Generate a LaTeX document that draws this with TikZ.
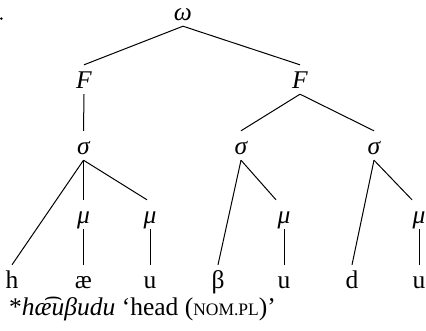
\documentclass[tikz,border=0pt]{standalone}
\usepackage{tikz}
\usetikzlibrary{calc}
\usepackage{fontspec}
\setmainfont{Liberation Serif}
\begin{document}
\begin{tikzpicture}[x=1pt,y=-1pt,
  lab/.style={inner sep=0pt, text height=23pt, text depth=6pt, anchor=base,
              font=\fontsize{25.5}{30}\selectfont},
  gk/.style={lab, font=\fontsize{25.5}{30}\selectfont\itshape},
  branch/.style={line width=1pt}]
\useasboundingbox (0,0) rectangle (426,330);

% period of the example number at the left edge
\fill (1.4,18.6) circle (1.4pt);

% prosodic word and feet
\node[gk] (w)  at (183,20)  {ω};
\node[gk] (F1) at (84,88)   {F};
\node[gk] (F2) at (300,88)  {F};

% syllables
\node[gk] (s1) at (83.5,154) {σ};
\node[gk] (s2) at (241,154)  {σ};
\node[gk] (s3) at (374,154)  {σ};

% moras
\node[gk] (m1) at (83.5,223) {μ};
\node[gk] (m2) at (150,223)  {μ};
\node[gk] (m3) at (284,223)  {μ};
\node[gk] (m4) at (419,223)  {μ};

% segments
\node[lab] (h)  at (12,288)   {h};
\node[lab] (ae) at (83.5,288) {æ};
\node[lab] (u1) at (150,288)  {u};
\node[lab] (b)  at (218,288)  {β};
\node[lab] (u2) at (284,288)  {u};
\node[lab] (d)  at (352,288)  {d};
\node[lab] (u3) at (419,288)  {u};

% gloss
\node[inner sep=0pt, anchor=base west, font=\fontsize{25.5}{30}\selectfont] (gloss) at (9,315)
  {*\textit{hæ͡uβudu} ‘head ({\fontsize{17.5}{20}\selectfont NOM.PL})’};

% branches
\draw[branch] (w.south) -- (F1.north);
\draw[branch] (w.south) -- (F2.north);
\draw[branch] (F1.south) -- (s1.north);
\draw[branch] (F2.south) -- (s2.north);
\draw[branch] (F2.south) -- (s3.north);
\draw[branch] (s1.south) -- (h.north);
\draw[branch] (s1.south) -- (m1.north);
\draw[branch] (s1.south) -- ($(m2.north)+(-3,0)$);
\draw[branch] (s2.south) -- (b.north);
\draw[branch] (s2.south) -- ($(m3.north)+(-8,0)$);
\draw[branch] (s3.south) -- (d.north);
\draw[branch] (s3.south) -- ($(m4.north)+(-7,0)$);
\draw[branch] (m1.south) -- (ae.north);
\draw[branch] (m2.south) -- (u1.north);
\draw[branch] (m3.south) -- (u2.north);
\draw[branch] (m4.south) -- (u3.north);
\end{tikzpicture}
\end{document}
